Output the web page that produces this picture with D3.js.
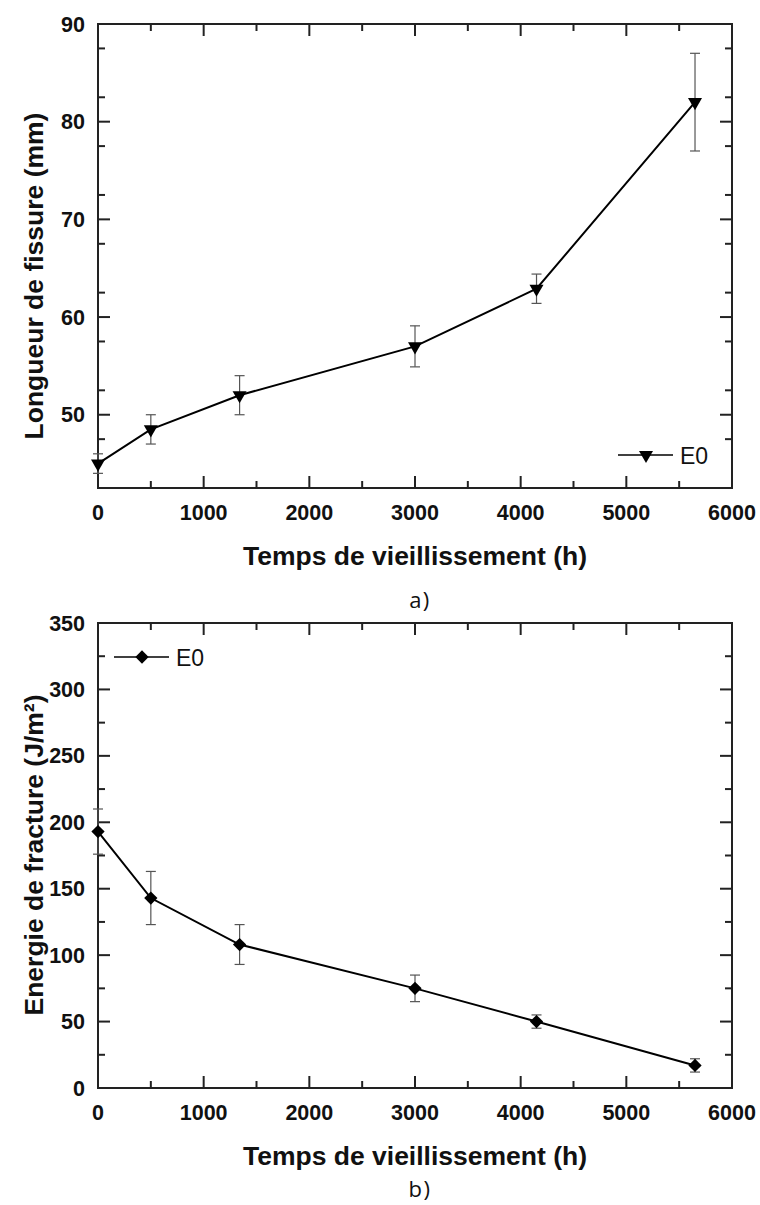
<!DOCTYPE html>
<html><head><meta charset="utf-8">
<script src="https://cdn.jsdelivr.net/npm/d3@7"></script>
<style>body{margin:0;background:#fff}svg{display:block}</style>
</head><body>
<svg id="c" width="760" height="1205"></svg>
<script>
// ---- data ----
const times = [0, 500, 1340, 3000, 4150, 5650];
const crackLength = [45, 48.5, 52, 57, 62.9, 82];
const crackErr = [1, 1.5, 2, 2.1, 1.5, 5];
const fractureEnergy = [193, 143, 108, 75, 50, 17];
const energyErr = [17, 20, 15, 10, 5, 5];
const xTicks = [0, 1000, 2000, 3000, 4000, 5000, 6000];
const yTicksA = [50, 60, 70, 80, 90];
const yTicksB = [0, 50, 100, 150, 200, 250, 300, 350];
const seriesName = "E0";

const svg = d3.select("#c");
const L = 98, R = 732;

function panel(opt){
  const g = svg.append("g");
  const x = d3.scaleLinear().domain([0, 6000]).range([L, R]);
  const y = d3.scaleLinear().domain(opt.ydom).range([opt.bottom, opt.top]);
  const maj = 12, mnr = 7;
  g.append("rect").attr("x", L).attr("y", opt.top).attr("width", R-L).attr("height", opt.bottom-opt.top)
    .attr("fill","none").attr("stroke","#222").attr("stroke-width",2);
  const xMinor = d3.range(500, 6000, 1000);
  const yMinor = d3.range(opt.ydom[0], opt.ydom[1]+0.001, opt.minor).filter(v => !opt.yticks.includes(v) && v > opt.ydom[0] && v < opt.ydom[1]);
  const tk = g.append("g").attr("stroke","#222").attr("stroke-width",2);
  xTicks.forEach(v => {
    tk.append("line").attr("x1",x(v)).attr("x2",x(v)).attr("y1",opt.bottom).attr("y2",opt.bottom-maj);
    tk.append("line").attr("x1",x(v)).attr("x2",x(v)).attr("y1",opt.top).attr("y2",opt.top+maj);
  });
  xMinor.forEach(v => {
    tk.append("line").attr("x1",x(v)).attr("x2",x(v)).attr("y1",opt.bottom).attr("y2",opt.bottom-mnr);
    tk.append("line").attr("x1",x(v)).attr("x2",x(v)).attr("y1",opt.top).attr("y2",opt.top+mnr);
  });
  opt.yticks.forEach(v => {
    tk.append("line").attr("x1",L).attr("x2",L+maj).attr("y1",y(v)).attr("y2",y(v));
    tk.append("line").attr("x1",R).attr("x2",R-maj).attr("y1",y(v)).attr("y2",y(v));
  });
  yMinor.forEach(v => {
    tk.append("line").attr("x1",L).attr("x2",L+mnr).attr("y1",y(v)).attr("y2",y(v));
    tk.append("line").attr("x1",R).attr("x2",R-mnr).attr("y1",y(v)).attr("y2",y(v));
  });
  const font = "'Liberation Sans', Arial, sans-serif";
  xTicks.forEach(v => g.append("text").attr("x",x(v)).attr("y",opt.bottom+32).attr("text-anchor","middle")
    .attr("font-family",font).attr("font-weight","bold").attr("font-size",21.5).attr("fill","#111").text(v));
  opt.yticks.forEach(v => g.append("text").attr("x",L-13).attr("y",y(v)+7.5).attr("text-anchor","end")
    .attr("font-family",font).attr("font-weight","bold").attr("font-size",21.5).attr("fill","#111").text(v));
  g.append("text").attr("x",(L+R)/2).attr("y",opt.bottom+77).attr("text-anchor","middle")
    .attr("font-family",font).attr("font-weight","bold").attr("font-size",26.5).attr("fill","#111").text("Temps de vieillissement (h)");
  g.append("text").attr("transform",`translate(43,${opt.ycenter}) rotate(-90)`).attr("text-anchor","middle")
    .attr("font-family",font).attr("font-weight","bold").attr("font-size",26.5).attr("fill","#111").text(opt.ylabel);
  g.append("text").attr("x",420).attr("y",opt.capY).attr("text-anchor","middle").attr("letter-spacing",1.5)
    .attr("font-family","'Open Sans', sans-serif").attr("font-size",22).attr("fill","#111").text(opt.cap);
  const eb = g.append("g").attr("stroke","#555").attr("stroke-width",1.2);
  times.forEach((t,i) => {
    const v = opt.vals[i], e = opt.errs[i];
    eb.append("line").attr("x1",x(t)).attr("x2",x(t)).attr("y1",y(v-e)).attr("y2",y(v+e));
    [v-e, v+e].forEach(w => eb.append("line").attr("x1",x(t)-5).attr("x2",x(t)+5).attr("y1",y(w)).attr("y2",y(w)));
  });
  g.append("path").datum(times.map((t,i)=>[t,opt.vals[i]]))
    .attr("d", d3.line().x(d=>x(d[0])).y(d=>y(d[1]))).attr("fill","none").attr("stroke","#000").attr("stroke-width",2);
  const sym = opt.shape === "tri"
    ? d3.symbol().type(d3.symbolTriangle).size(85)
    : d3.symbol().type(d3.symbolSquare).size(88);
  const rot = opt.shape === "tri" ? 180 : 45;
  times.forEach((t,i) => g.append("path").attr("d", sym()).attr("fill","#000")
    .attr("transform",`translate(${x(t)},${y(opt.vals[i])}) rotate(${rot})`));
  const lg = g.append("g");
  lg.append("line").attr("x1",opt.legX).attr("x2",opt.legX+55).attr("y1",opt.legY).attr("y2",opt.legY).attr("stroke","#000").attr("stroke-width",1.5);
  lg.append("path").attr("d", sym()).attr("fill","#000").attr("transform",`translate(${opt.legX+28},${opt.legY}) rotate(${rot})`);
  lg.append("text").attr("x",opt.legX+62).attr("y",opt.legY+8.5).attr("font-family",font).attr("font-size",23).attr("fill","#111").text(seriesName);
}

panel({top:24, bottom:488, ydom:[42.5,90], yticks:yTicksA, minor:5, vals:crackLength, errs:crackErr,
  shape:"tri", ylabel:"Longueur de fissure (mm)", ycenter:276, cap:"a)", capY:608, legX:618, legY:455});
panel({top:623, bottom:1088, ydom:[0,350], yticks:yTicksB, minor:25, vals:fractureEnergy, errs:energyErr,
  shape:"dia", ylabel:"Energie de fracture (J/m²)", ycenter:855, cap:"b)", capY:1197, legX:114, legY:657});
</script>
</body></html>
